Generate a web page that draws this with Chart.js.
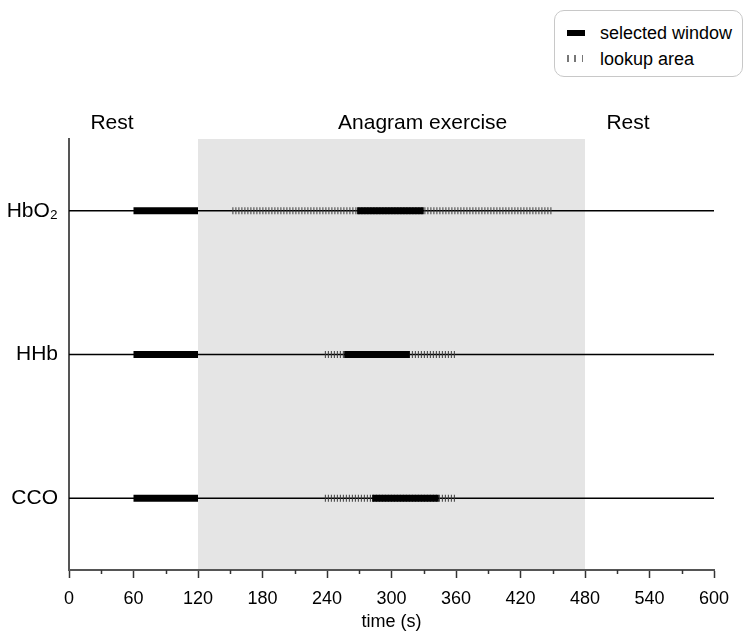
<!DOCTYPE html>
<html>
<head>
<meta charset="utf-8">
<script src="https://cdn.jsdelivr.net/npm/chart.js@4"></script>
<style>
  body { margin: 0; background: #fff; }
  #wrap { position: relative; width: 756px; height: 640px; font-family: "Liberation Sans", Arial, sans-serif; }
  #legend {
    position: absolute; left: 554px; top: 10px; width: 187px; height: 65px;
    border: 1px solid #c8c8c8; border-radius: 10px; background: #fff;
  }
  .item { position: absolute; left: 45px; font-size: 18px; line-height: 20px; color: #000; }
  .icon { position: absolute; left: 12px; width: 18px; }
</style>
</head>
<body>
<div id="wrap">
  <canvas id="windowsChart"></canvas>
  <div id="legend">
    <div class="icon" style="top:19px;height:6px;background:#000;"></div>
    <div class="item" style="top:12px;">selected window</div>
    <div class="icon" style="top:44px;height:7px;background:repeating-linear-gradient(to right,#777 0 1.5px,transparent 1.5px 7.5px);"></div>
    <div class="item" style="top:38px;">lookup area</div>
  </div>
</div>
<script>
// rows, top to bottom
const rowLabels = ["HbO₂", "HHb", "CCO"];
// selected window during rest (s)
const restWindowStart = [60, 60, 60];
const restWindowEnd = [120, 120, 120];
// selected window during the task (s)
const taskWindowStart = [268, 256, 282];
const taskWindowEnd = [330, 317, 344];
// lookup area (s)
const lookupStart = [152, 238, 238];
const lookupEnd = [450, 359, 359];
// phases
const exerciseStart = 120;
const exerciseEnd = 480;
const phaseLabels = ["Rest", "Anagram exercise", "Rest"];
const phaseLabelAt = [40, 329, 520];
// time axis
const timeMin = 0;
const timeMax = 600;
const timeStep = 60;

Chart.defaults.font.family = '"Liberation Sans", Arial, sans-serif';
Chart.defaults.color = "#000";

const datasets = [];
rowLabels.forEach((label, i) => {
    const y = rowLabels.length - i;
    datasets.push({
        label: label + " rest window",
        data: [{x: restWindowStart[i], y: y}, {x: restWindowEnd[i], y: y}],
        borderColor: "#000",
        borderWidth: 7,
        borderCapStyle: "butt",
        order: 0
    });
    datasets.push({
        label: label + " task window",
        data: [{x: taskWindowStart[i], y: y}, {x: taskWindowEnd[i], y: y}],
        borderColor: "#000",
        borderWidth: 7,
        borderCapStyle: "butt",
        order: 0
    });
    datasets.push({
        label: label + " lookup",
        data: [{x: lookupStart[i], y: y}, {x: lookupEnd[i], y: y}],
        borderColor: "#3a3a3a",
        borderWidth: 7,
        borderDash: [1, 2],
        borderCapStyle: "butt",
        order: 1
    });
    datasets.push({
        label: label,
        data: [{x: timeMin, y: y}, {x: timeMax, y: y}],
        borderColor: "#000",
        borderWidth: 1.5,
        order: 2
    });
});

// grey band for the exercise, phase names above, minor ticks on the time axis
const phasePlugin = {
    id: "phases",
    beforeDraw(chart) {
        const {ctx, chartArea} = chart;
        const x = chart.scales.x;
        ctx.save();
        ctx.fillStyle = "#e5e5e5";
        const x0 = x.getPixelForValue(exerciseStart);
        const x1 = x.getPixelForValue(exerciseEnd);
        ctx.fillRect(x0, chartArea.top, x1 - x0, chartArea.bottom - chartArea.top);
        ctx.restore();
    },
    afterDraw(chart) {
        const {ctx, chartArea} = chart;
        const x = chart.scales.x;
        ctx.save();
        ctx.font = '21px "Liberation Sans", Arial, sans-serif';
        ctx.fillStyle = "#000";
        ctx.textAlign = "center";
        ctx.textBaseline = "alphabetic";
        phaseLabels.forEach((t, i) => {
            ctx.fillText(t, x.getPixelForValue(phaseLabelAt[i]), chartArea.top - 10);
        });
        ctx.strokeStyle = "#333";
        ctx.lineWidth = 1.5;
        for (let v = timeMin + timeStep / 2; v < timeMax; v += timeStep) {
            const px = Math.round(x.getPixelForValue(v)) + 0.5;
            ctx.beginPath();
            ctx.moveTo(px, chartArea.bottom);
            ctx.lineTo(px, chartArea.bottom + 4);
            ctx.stroke();
        }
        ctx.restore();
    }
};

new Chart(document.getElementById("windowsChart"), {
    type: "line",
    data: {datasets: datasets},
    options: {
        responsive: true,
        maintainAspectRatio: false,
        animation: false,
        elements: {point: {radius: 0}},
        layout: {padding: {left: 0, top: 139, right: 42, bottom: 0}},
        plugins: {legend: {display: false}, tooltip: {enabled: false}},
        scales: {
            x: {
                type: "linear",
                min: timeMin,
                max: timeMax,
                afterFit: (s) => { s.height = 70; },
                ticks: {stepSize: timeStep, padding: 10, font: {size: 18}, color: "#000"},
                grid: {drawOnChartArea: false, drawTicks: true, tickLength: 8, tickColor: "#333", tickWidth: 1.5},
                border: {display: true, color: "#555", width: 2},
                title: {display: true, text: "time (s)", font: {size: 18}, color: "#000", padding: {top: 0, bottom: 7}}
            },
            y: {
                type: "linear",
                min: 0.5,
                max: 3.5,
                afterFit: (s) => { s.width = 69; },
                afterBuildTicks: (s) => { s.ticks = rowLabels.map((l, i) => ({value: rowLabels.length - i})); },
                ticks: {
                    padding: 11,
                    font: {size: 21},
                    color: "#000",
                    callback: (v) => rowLabels[rowLabels.length - v]
                },
                grid: {display: false, drawTicks: false},
                border: {display: true, color: "#555", width: 2}
            }
        }
    },
    plugins: [phasePlugin]
});
</script>
</body>
</html>
